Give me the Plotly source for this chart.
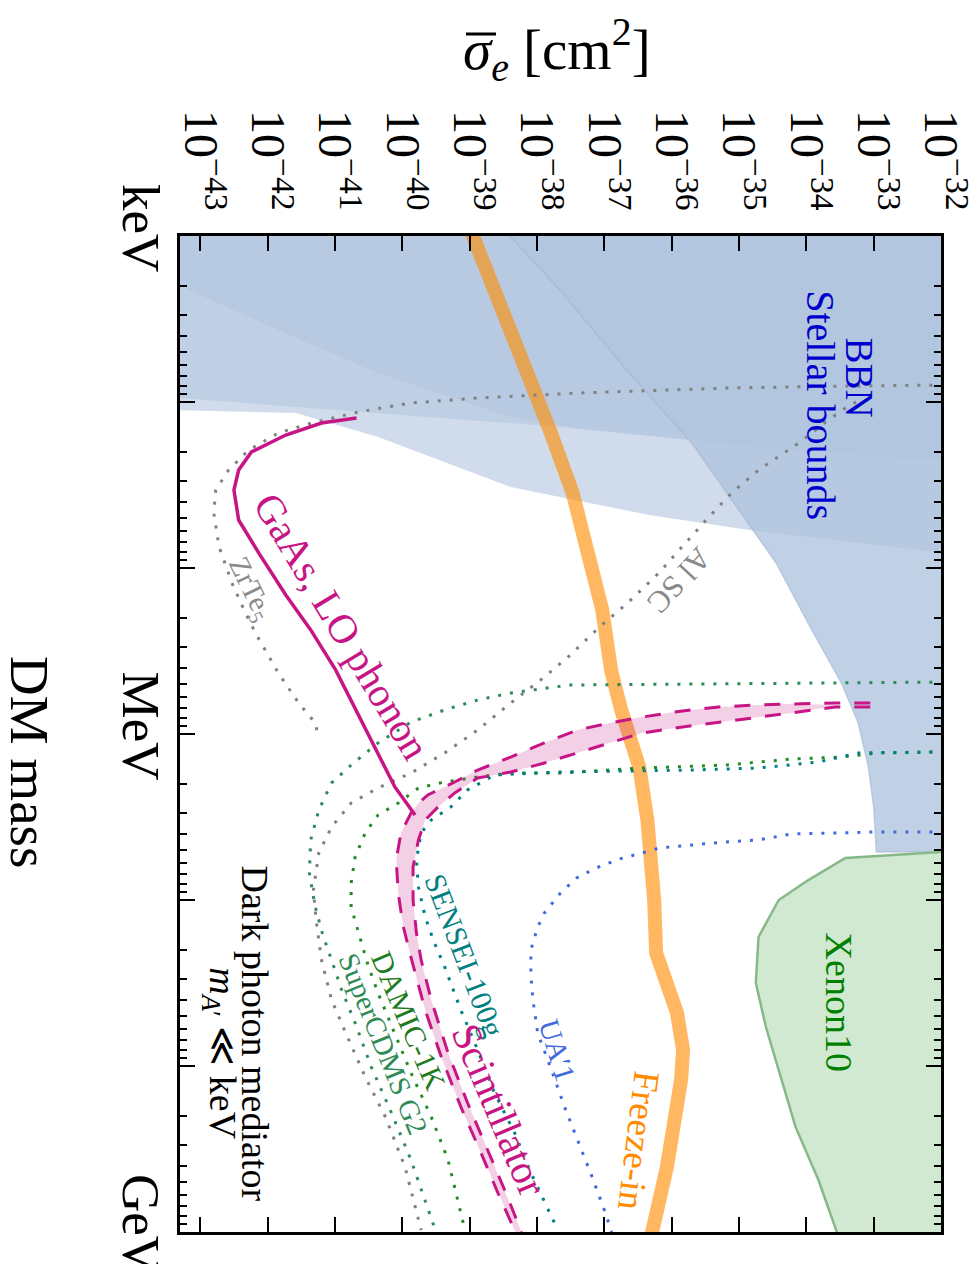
import plotly.graph_objects as go

# ---------------- data (log10 sigma_e [cm^2], log10 mass [MeV]) ----------------
sigma_tick_exps = [-43, -42, -41, -40, -39, -38, -37, -36, -35, -34, -33, -32]
sigma_tick_text = ["10<sup>\u2212%d</sup>" % (-e) for e in sigma_tick_exps]
mass_tick_vals = [1e-3, 1e-2, 1e-1, 1.0, 1e1, 1e2, 1e3]
mass_tick_text = ["keV", "", "", "MeV", "", "", "GeV"]

# BBN-type layered bounds (lower boundaries)
bbn1_log_sigma = [-43.5, -41.58, -40.36, -38.39, -37.66, -36.33, -34.85, -31.5]
bbn1_log_mass = [-1.952, -1.934, -1.789, -1.488, -1.428, -1.319, -1.229, -1.07]
bbn2_log_sigma = [-43.5, -40.61, -39.0, -37.66, -34.71, -31.5]
bbn2_log_mass = [-2.030, -1.940, -1.892, -1.849, -1.729, -1.633]
bbn3_log_sigma = [-43.5, -41.84, -40.36, -38.39, -37.40, -34.71, -31.5]
bbn3_log_mass = [-2.735, -2.434, -2.175, -1.910, -1.843, -1.729, -1.633]

# Stellar bounds (left boundary)
stellar_log_sigma = [-38.89, -38.39, -37.66, -36.67, -35.70, -34.90, -34.45, -33.92,
                     -33.48, -33.23, -33.08, -33.00, -32.96]
stellar_log_mass = [-3.22, -2.994, -2.675, -2.193, -1.753, -1.289, -1.030, -0.627,
                    -0.307, -0.066, 0.199, 0.440, 0.711]

# Xenon10 region boundary
xenon_log_sigma = [-31.5, -33.42, -33.97, -34.41, -34.71, -34.75, -34.60, -34.16, -33.82, -33.55, -33.40]
xenon_log_mass = [0.699, 0.747, 0.880, 1.0, 1.223, 1.500, 1.765, 2.367, 2.687, 3.0, 3.169]

# Freeze-in
freezein_log_sigma = [-39.0, -38.95, -38.55, -38.18, -37.81, -37.47, -37.22, -37.03, -36.90,
                      -36.75, -36.48, -36.36, -36.26, -36.23, -35.92, -35.83, -35.86,
                      -36.07, -36.29, -36.31]
freezein_log_mass = [-3.05, -3.0, -2.614, -2.235, -1.831, -1.452, -1.048, -0.747, -0.386,
                     -0.145, 0.199, 0.518, 1.0, 1.319, 1.681, 1.904, 2.084,
                     2.608, 3.0, 3.05]

# GaAs, LO phonon
gaas_log_sigma = [-40.68, -41.20, -41.73, -42.24, -42.43, -42.50, -42.43, -42.13,
                  -41.73, -41.36, -40.99, -40.46, -40.11, -39.81]
gaas_log_mass = [-1.904, -1.873, -1.801, -1.699, -1.590, -1.470, -1.289, -1.090,
                 -0.837, -0.627, -0.386, 0.036, 0.319, 0.488]

# Scintillator band (outer and inner edges)
scint_out_log_sigma = [-33.05, -33.57, -34.22, -34.71, -35.30, -35.84, -36.44, -36.92, -37.40,
                       -37.89, -38.39, -38.88, -39.22, -39.62, -39.76, -39.87, -40.02, -40.09,
                       -40.06, -39.99, -39.88, -39.66, -39.42, -39.13, -38.83, -38.58, -38.32]
scint_out_log_mass = [-0.187, -0.187, -0.181, -0.175, -0.163, -0.139, -0.102, -0.066, -0.024,
                      0.054, 0.139, 0.217, 0.289, 0.367, 0.416, 0.476, 0.596, 0.759,
                      0.958, 1.151, 1.331, 1.663, 1.946, 2.247, 2.524, 2.765, 3.0]
scint_in_log_sigma = [-33.05, -33.57, -34.22, -34.71, -35.30, -35.84, -36.44, -36.92, -37.41,
                      -37.89, -38.39, -38.88, -39.22, -39.47, -39.66, -39.76, -39.84, -39.84,
                      -39.79, -39.72, -39.57, -39.32, -39.03, -38.73, -38.48, -38.23]
scint_in_log_mass = [-0.163, -0.163, -0.127, -0.102, -0.072, -0.042, -0.006, 0.054, 0.114,
                     0.175, 0.229, 0.265, 0.355, 0.440, 0.518, 0.638, 0.801, 1.0,
                     1.199, 1.361, 1.602, 1.922, 2.223, 2.506, 2.747, 3.0]
scint_tip = (-33.48, -0.175)

# Dotted projections
zrte5_log_sigma = [-31.95, -33.42, -35.19, -37.40, -38.88, -39.87, -40.65, -41.35, -41.84, -42.28,
                   -42.58, -42.77, -42.80, -42.72, -42.53, -42.35, -42.18, -41.84, -41.54, -41.29, -41.26]
zrte5_log_mass = [-2.102, -2.096, -2.084, -2.054, -2.024, -1.994, -1.940, -1.873, -1.813, -1.711,
                  -1.590, -1.470, -1.331, -1.127, -0.910, -0.747, -0.608, -0.367, -0.187, -0.066, -0.006]

alsc_log_sigma = [-33.26, -33.42, -33.71, -34.11, -34.71, -35.11, -35.49, -35.79, -36.19, -36.67,
                  -37.07, -37.52, -37.89, -38.39, -38.88, -39.37, -39.87, -40.36, -40.76, -41.05,
                  -41.24, -41.32, -41.28, -41.20, -41.05, -40.84, -40.55, -40.25, -39.96, -39.72]
alsc_log_mass = [-2.0, -1.964, -1.880, -1.753, -1.590, -1.452, -1.289, -1.151, -0.970, -0.783,
                 -0.645, -0.470, -0.343, -0.187, -0.024, 0.114, 0.235, 0.325, 0.416, 0.560,
                 0.717, 0.940, 1.120, 1.361, 1.602, 1.801, 2.066, 2.307, 2.608, 2.988]

supercdms_log_sigma = [-31.95, -37.52, -38.39, -38.88, -39.37, -39.87, -40.36, -40.76, -41.05, -41.24,
                       -41.36, -41.38, -41.30, -41.18, -41.05, -40.90, -40.70, -40.46, -40.16, -39.87, -39.51]
supercdms_log_mass = [-0.313, -0.295, -0.247, -0.205, -0.145, -0.072, 0.054, 0.187, 0.295, 0.458,
                      0.638, 0.837, 1.030, 1.211, 1.361, 1.542, 1.741, 2.006, 2.283, 2.566, 2.988]

damic_log_sigma = [-31.95, -32.93, -33.48, -34.22, -35.19, -36.44, -37.66, -38.39, -38.88, -39.37,
                   -39.76, -40.06, -40.36, -40.55, -40.70, -40.76, -40.76, -40.65, -40.50, -40.36,
                   -40.11, -39.87, -39.57, -39.32, -39.07]
damic_log_mass = [0.108, 0.114, 0.139, 0.151, 0.187, 0.205, 0.235, 0.235, 0.259, 0.289,
                  0.325, 0.416, 0.488, 0.596, 0.741, 0.898, 1.042, 1.199, 1.404, 1.560,
                  1.801, 2.042, 2.307, 2.566, 2.988]

sensei_log_sigma = [-31.95, -33.23, -33.82, -34.71, -35.70, -37.66, -38.63, -39.03, -39.28, -39.57,
                    -39.72, -39.79, -39.76, -39.66, -39.54, -39.37, -39.13, -38.88, -38.63, -38.33,
                    -38.09, -37.69]
sensei_log_mass = [0.108, 0.114, 0.169, 0.205, 0.217, 0.229, 0.247, 0.337, 0.440, 0.518,
                   0.596, 0.759, 0.922, 1.102, 1.241, 1.404, 1.663, 1.904, 2.163, 2.404,
                   2.644, 2.988]

ua1_log_sigma = [-31.95, -32.98, -33.48, -34.22, -34.71, -35.19, -35.70, -36.19, -36.44, -36.78,
                 -37.12, -37.41, -37.65, -37.89, -37.99, -38.09, -38.09, -38.06, -37.99, -37.80,
                 -37.59, -37.47, -37.32, -37.18, -37.00, -36.89]
ua1_log_mass = [0.590, 0.590, 0.596, 0.602, 0.638, 0.650, 0.669, 0.687, 0.717, 0.753,
                0.807, 0.867, 0.958, 1.078, 1.163, 1.301, 1.452, 1.602, 1.801, 2.006,
                2.247, 2.367, 2.524, 2.669, 2.867, 3.0]

# ---------------- figure ----------------
def P(v):
    return [10.0 ** a for a in v]

FONT = "Liberation Serif"
TOP = -3.5
RIGHT = -31.5
L, R, T, B = 180, 38, 236, 32
W, H = 979, 1264
PW, PH = W - L - R, H - T - B


def px_x(px):
    return (px - L) / PW


def px_y(py):
    return 1 - (py - T) / PH


fig = go.Figure()


def region(xs, ys, color, line=None):
    fig.add_trace(go.Scatter(x=P(xs), y=P(ys), mode="lines", fill="toself", fillcolor=color,
                             line=line or dict(width=0, color="rgba(0,0,0,0)"),
                             hoverinfo="skip", showlegend=False))


# BBN layers (closed along the top of the panel)
region(bbn1_log_sigma + [RIGHT, -43.5], bbn1_log_mass + [TOP, TOP], "rgba(176,196,222,0.60)")
region(bbn2_log_sigma + [RIGHT, -43.5], bbn2_log_mass + [TOP, TOP], "rgba(176,196,222,0.55)")
region(bbn3_log_sigma + [RIGHT, -43.5], bbn3_log_mass + [TOP, TOP], "rgba(176,196,222,0.45)")
# Stellar
region(stellar_log_sigma + [RIGHT, RIGHT], stellar_log_mass + [stellar_log_mass[-1], stellar_log_mass[0]],
       "rgba(176,196,222,0.80)", dict(width=1.5, color="rgba(160,180,212,0.55)"))
# Xenon10
region(xenon_log_sigma + [RIGHT], xenon_log_mass + [xenon_log_mass[-1]],
       "rgba(0,128,0,0.18)", dict(width=2.5, color="rgba(135,184,135,1)"))

# Freeze-in
fig.add_trace(go.Scatter(x=P(freezein_log_sigma), y=P(freezein_log_mass), mode="lines",
                         line=dict(color="rgba(255,140,0,0.62)", width=14),
                         hoverinfo="skip", showlegend=False))


def dotted(xs, ys, color):
    fig.add_trace(go.Scatter(x=P(xs), y=P(ys), mode="lines",
                             line=dict(color=color, width=3, dash="3px,9px"),
                             hoverinfo="skip", showlegend=False))


dotted(zrte5_log_sigma, zrte5_log_mass, "#808080")
dotted(alsc_log_sigma, alsc_log_mass, "#808080")
dotted(supercdms_log_sigma, supercdms_log_mass, "#2E8B57")
dotted(damic_log_sigma, damic_log_mass, "#228B22")
dotted(sensei_log_sigma, sensei_log_mass, "#008080")
dotted(ua1_log_sigma, ua1_log_mass, "#4169E1")

# Scintillator band
band_x = [scint_tip[0]] + scint_out_log_sigma[2:] + scint_in_log_sigma[2:][::-1]
band_y = [scint_tip[1]] + scint_out_log_mass[2:] + scint_in_log_mass[2:][::-1]
region(band_x, band_y, "rgba(199,21,133,0.2)")
for xs, ys in [(scint_out_log_sigma, scint_out_log_mass), (scint_in_log_sigma, scint_in_log_mass)]:
    fig.add_trace(go.Scatter(x=P(xs), y=P(ys), mode="lines",
                             line=dict(color="#C71585", width=3, dash="16px,14px"),
                             hoverinfo="skip", showlegend=False))

# GaAs
fig.add_trace(go.Scatter(x=P(gaas_log_sigma), y=P(gaas_log_mass), mode="lines",
                         line=dict(color="#C71585", width=3.5),
                         hoverinfo="skip", showlegend=False))

# ---------------- labels ----------------
labels = [
    ("BBN", -33.21, -2.151, 90, "#0000CC", 39),
    ("Stellar bounds", -33.80, -1.982, 90, "#0000CC", 40),
    ("Xenon10", -33.51, 1.614, 90, "#008000", 38),
    ("Freeze-in", -36.48, 2.452, 97, "#FF8C00", 37),
    ("UA\u20321", -37.70, 1.904, 73, "#4169E1", 29),
    ("SENSEI-100g", -39.08, 1.337, 69, "#008080", 30),
    ("Scintillator", -38.56, 2.265, 67, "#C71585", 41),
    ("DAMIC-1K", -39.90, 1.723, 67, "#1E7B1E", 30),
    ("SuperCDMS G2", -40.28, 1.867, 68, "#2E8B57", 29),
    ("ZrTe<sub>5</sub>", -42.26, -0.874, 64, "#8a8a8a", 29),
    ("Al SC", -35.89, -0.928, 133, "#8a8a8a", 31),
    ("GaAs, LO phonon", -40.90, -0.650, 59, "#C71585", 41),
    ("Dark photon mediator", -42.18, 1.807, 90, "black", 38),
    ("<i>m</i><sub><i>A</i>\u2032</sub> \u226A keV", -42.71, 1.922, 90, "black", 38),
]
for text, lx, ly, ang, col, size in labels:
    fig.add_annotation(x=lx, y=ly, xref="x", yref="y", text=text, textangle=ang, showarrow=False,
                       font=dict(family=FONT, size=size, color=col), xanchor="center", yanchor="middle")

# axis titles
fig.add_annotation(x=px_x(557), y=px_y(50), xref="paper", yref="paper",
                   text="<i>\u03C3</i><sub><i>e</i></sub> [cm<sup>2</sup>]", showarrow=False,
                   font=dict(family=FONT, size=57, color="black"), xanchor="center", yanchor="middle")
fig.add_shape(type="line", xref="paper", yref="paper", x0=px_x(466), x1=px_x(496),
              y0=px_y(34), y1=px_y(34), line=dict(color="black", width=3))
fig.add_annotation(x=px_x(30), y=px_y(762), xref="paper", yref="paper",
                   text="DM mass", textangle=90, showarrow=False,
                   font=dict(family=FONT, size=55, color="black"), xanchor="center", yanchor="middle")

minor_vals = [m * 10.0 ** e for e in range(-3, 3) for m in range(2, 10)]

fig.update_layout(
    width=W, height=H,
    margin=dict(l=L, r=R, t=T, b=B),
    paper_bgcolor="white", plot_bgcolor="white",
    showlegend=False,
    xaxis=dict(type="log", range=[-43.301, -32.0], side="top", automargin=False,
               tickmode="array", tickvals=[10.0 ** e for e in sigma_tick_exps], ticktext=sigma_tick_text,
               tickangle=90, ticks="inside", ticklen=15, tickwidth=1.5, tickcolor="black",
               showline=True, linewidth=2.5, linecolor="black", mirror="allticks",
               showgrid=False, zeroline=False, ticklabelstandoff=6, ticklabeloverflow="allow",
               tickfont=dict(family=FONT, size=48, color="black")),
    yaxis=dict(type="log", range=[3, -3], automargin=False,
               tickmode="array", tickvals=mass_tick_vals, ticktext=mass_tick_text,
               tickangle=90, ticks="inside", ticklen=15, tickwidth=1.5, tickcolor="black",
               minor=dict(tickmode="array", tickvals=minor_vals, ticks="inside", ticklen=7,
                          tickwidth=1.5, tickcolor="black", showgrid=False),
               showline=True, linewidth=2.5, linecolor="black", mirror="allticks",
               showgrid=False, zeroline=False, ticklabelstandoff=-9, ticklabeloverflow="allow",
               tickfont=dict(family=FONT, size=53, color="black")),
)

fig.write_html("out.html", config={"displayModeBar": False},
               post_script="document.body.style.margin='0px';")
